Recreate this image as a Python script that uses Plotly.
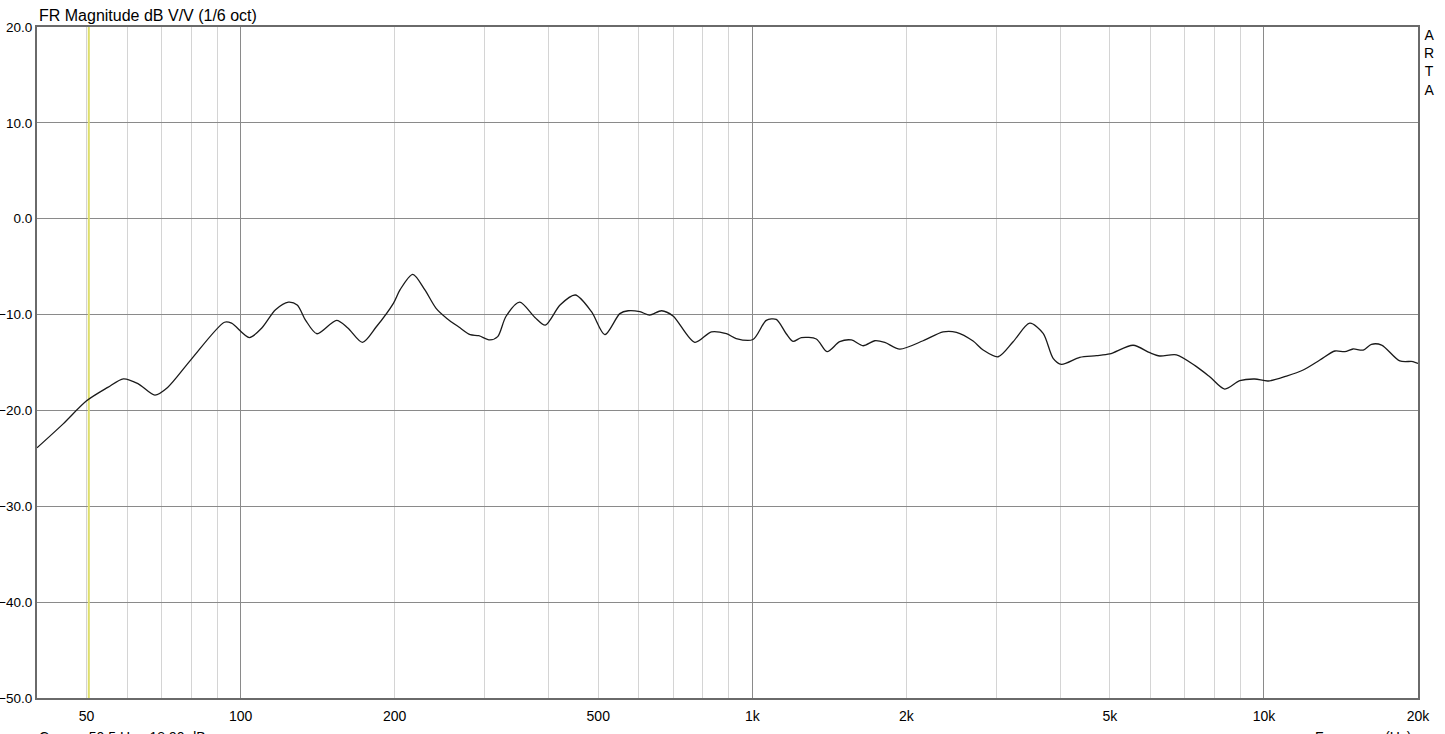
import numpy as np
import plotly.graph_objects as go

# Frequency response (Hz, dB)
freq = [40, 45, 50, 55, 59, 63, 68, 72, 80, 93, 96, 104, 110, 117, 124, 129, 134, 141, 154,
        162, 173, 184, 199, 205, 217, 229, 241, 253, 267, 281, 292, 307, 318, 330, 351, 376,
        394, 421, 451, 485, 515, 551, 572, 603, 630, 665, 700, 772, 832, 890, 930, 1003,
        1065, 1114, 1165, 1201, 1247, 1334, 1400, 1482, 1562, 1646, 1735, 1815, 1942, 2157,
        2360, 2506, 2701, 2826, 3023, 3234, 3485, 3702, 3872, 4020, 4365, 4707, 4996, 5550,
        5982, 6257, 6745, 7380, 7834, 8381, 8968, 9594, 10190, 11070, 11930, 12860, 13760,
        14390, 14930, 15630, 16220, 16980, 18430, 19550, 20000]
mag_db = [-23.9, -21.4, -19.0, -17.6, -16.7, -17.2, -18.4, -17.6, -14.7, -10.8, -10.9, -12.4,
          -11.4, -9.5, -8.7, -9.0, -10.6, -12.0, -10.6, -11.4, -12.9, -11.3, -8.8, -7.4, -5.8,
          -7.4, -9.35, -10.4, -11.3, -12.1, -12.2, -12.65, -12.3, -10.2, -8.7, -10.3, -11.1,
          -9.0, -7.96, -9.7, -12.1, -9.9, -9.6, -9.7, -10.05, -9.6, -10.15, -12.9, -11.8,
          -12.0, -12.5, -12.6, -10.6, -10.5, -12.0, -12.8, -12.4, -12.55, -13.87, -12.83,
          -12.65, -13.25, -12.73, -12.9, -13.6, -12.73, -11.8, -11.85, -12.76, -13.7, -14.4,
          -12.83, -10.9, -11.96, -14.56, -15.19, -14.46, -14.29, -14.11, -13.2, -13.98, -14.32,
          -14.2, -15.43, -16.48, -17.77, -16.9, -16.72, -16.93, -16.41, -15.78, -14.74, -13.8,
          -13.87, -13.59, -13.7, -13.1, -13.18, -14.84, -14.9, -15.1]

cursor_freq = 50.5
cursor_db = -18.90

x_range = [40, 20000]
y_range = [-50, 20]
y_ticks = [-50, -40, -30, -20, -10, 0, 10, 20]
x_label_vals = [50, 100, 200, 500, 1000, 2000, 5000, 10000, 20000]
x_label_text = ["50", "100", "200", "500", "1k", "2k", "5k", "10k", "20k"]
decade_vals = [100, 1000, 10000]
minor_vals = [50, 60, 70, 80, 90, 200, 300, 400, 500, 600, 700, 800, 900,
              2000, 3000, 4000, 5000, 6000, 7000, 8000, 9000, 20000]

FONT = "Liberation Sans, Arial, sans-serif"

fig = go.Figure()
fig.add_trace(go.Scatter(x=[cursor_freq, cursor_freq], y=y_range, mode="lines",
                         line=dict(color="#dede6a", width=2), hoverinfo="skip",
                         showlegend=False))
fig.add_trace(go.Scatter(x=freq, y=mag_db, mode="lines",
                         line=dict(color="#1a1a1a", width=1.3, shape="spline", smoothing=0.8),
                         showlegend=False))

lx = [np.log10(v) for v in x_range]
fig.update_layout(
    width=1445, height=734,
    margin=dict(l=37, r=27, t=27, b=36, autoexpand=False),
    paper_bgcolor="white", plot_bgcolor="white",
    font=dict(family=FONT, size=14, color="black"),
    showlegend=False,
    xaxis=dict(type="log", range=lx, tickvals=decade_vals, showticklabels=False,
               automargin=False,
               showgrid=True, gridcolor="#8a8a8a", gridwidth=1, zeroline=False,
               showline=True, linecolor="#6a6a6a", linewidth=2, mirror=True,
               minor=dict(tickvals=minor_vals, showgrid=True, gridcolor="#d4d4d4",
                          gridwidth=1, ticks="")),
    xaxis2=dict(type="log", range=lx, overlaying="x", side="bottom", anchor="y",
                automargin=False,
                tickvals=x_label_vals, ticktext=x_label_text, showgrid=False,
                zeroline=False, showline=False, ticks="outside", ticklen=5,
                tickcolor="rgba(0,0,0,0)", tickfont=dict(family=FONT, size=14)),
    yaxis=dict(range=y_range, tickvals=y_ticks, tickformat=".1f", showgrid=True,
               automargin=False,
               gridcolor="#8a8a8a", gridwidth=1, zeroline=False, showline=True,
               linecolor="#6a6a6a", linewidth=2, mirror=True, ticks="",
               tickfont=dict(family=FONT, size=13.5)),
)
fig.add_trace(go.Scatter(x=[x_range[0]], y=[y_range[0]], xaxis="x2", mode="markers",
                         marker=dict(opacity=0), hoverinfo="skip", showlegend=False))

fig.add_annotation(text="FR Magnitude dB V/V (1/6 oct)", xref="paper", yref="paper",
                   x=0, y=1, xanchor="left", yanchor="bottom", showarrow=False,
                   xshift=0, yshift=1, font=dict(family=FONT, size=16, color="black"))
fig.add_annotation(text="A<br>R<br>T<br>A", xref="paper", yref="paper",
                   x=1, y=1, xanchor="left", yanchor="top", showarrow=False,
                   xshift=4, yshift=2, align="center",
                   font=dict(family=FONT, size=14, color="black"))
fig.add_annotation(text=f"Cursor: {cursor_freq} Hz, {cursor_db:.2f} dB", xref="paper",
                   yref="paper", x=0, y=0, xanchor="left", yanchor="top",
                   showarrow=False, yshift=-29, font=dict(family=FONT, size=14, color="black"))
fig.add_annotation(text="Frequency (Hz)", xref="paper", yref="paper", x=1, y=0,
                   xanchor="right", yanchor="top", showarrow=False, yshift=-29,
                   xshift=-5, font=dict(family=FONT, size=14, color="black"))

fig.write_html("out.html", config={"displayModeBar": False},
               post_script="document.body.style.margin='0';document.body.style.overflow='hidden';")
